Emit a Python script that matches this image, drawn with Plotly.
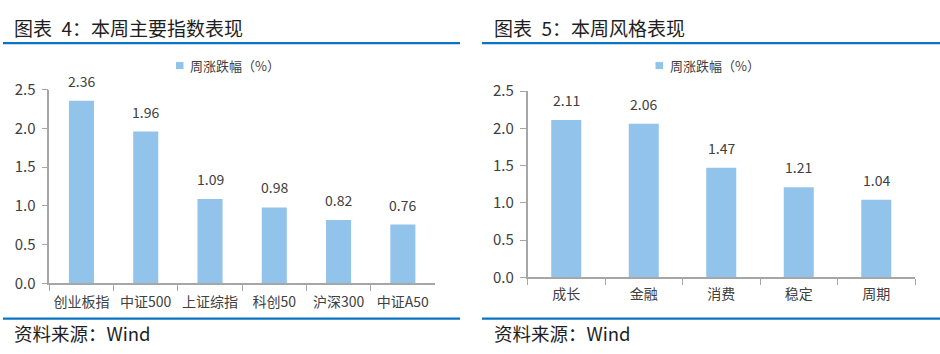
import plotly.graph_objects as go

W, H = 940, 354

idx_categories = ["创业板指", "中证500", "上证综指", "科创50", "沪深300", "中证A50"]
idx_values = [2.36, 1.96, 1.09, 0.98, 0.82, 0.76]

style_categories = ["成长", "金融", "消费", "稳定", "周期"]
style_values = [2.11, 2.06, 1.47, 1.21, 1.04]

y_ticks = [0.0, 0.5, 1.0, 1.5, 2.0, 2.5]
y_tick_text = ["0.0", "0.5", "1.0", "1.5", "2.0", "2.5"]

series_name = "周涨跌幅（%）"
titles = ["图表\u20024：本周主要指数表现", "图表\u20025：本周风格表现"]
source = "资料来源：Wind"

BAR = "#92C3EA"
TXT = "#404040"
AX = "#A6A6A6"
BLUE = "#0A74C4"
DARK = "#1E1E1E"
FONT = "Noto Sans CJK SC"


def px(x):
    return x / W


def py(y):
    return 1 - y / H


fig = go.Figure()

fig.add_trace(go.Bar(
    x=idx_categories, y=idx_values, marker_color=BAR, marker_line_width=0,
    xaxis="x", yaxis="y", showlegend=False, width=0.39, name=series_name,
))
fig.add_trace(go.Bar(
    x=style_categories, y=style_values, marker_color=BAR, marker_line_width=0,
    xaxis="x2", yaxis="y2", showlegend=False, width=0.387, name=series_name,
))

axis_common = dict(
    showgrid=False, zeroline=False, showline=True, linecolor=AX, linewidth=1.5,
    ticks="outside", ticklen=6, tickcolor=AX, tickwidth=1,
    tickfont=dict(size=14, color=TXT, family=FONT),
)
yaxis_common = dict(axis_common, tickfont=dict(size=15, color=TXT, family=FONT))

fig.update_layout(
    width=W, height=H, margin=dict(l=0, r=0, t=0, b=0),
    paper_bgcolor="white", plot_bgcolor="white",
    font=dict(family=FONT, color=TXT),
    showlegend=False,
    xaxis=dict(domain=[px(49.3), px(435)], anchor="y", ticklabelstandoff=5,
               tickangle=0, **axis_common),
    yaxis=dict(domain=[py(288.5), py(82.7)], anchor="x", range=[0, 2.5],
               tickvals=y_ticks, ticktext=y_tick_text, ticklabelstandoff=3, **yaxis_common),
    xaxis2=dict(domain=[px(527.5), px(915)], anchor="y2", ticklabelstandoff=3,
                tickangle=0, **axis_common),
    yaxis2=dict(domain=[py(282), py(84)], anchor="x2", range=[0, 2.5],
                tickvals=y_ticks, ticktext=y_tick_text, ticklabelstandoff=3, **yaxis_common),
)
fig.update_xaxes(tickson="boundaries")

shapes = []
annotations = []

# value labels above bars, placed through the axes' own scales
for cats, vals, xr, yr in [(idx_categories, idx_values, "x", "y"),
                           (style_categories, style_values, "x2", "y2")]:
    for c, v in zip(cats, vals):
        annotations.append(dict(text=f"{v:.2f}", x=c, y=v, xref=xr, yref=yr,
                                xanchor="center", yanchor="middle", yshift=20,
                                showarrow=False,
                                font=dict(size=14, color=TXT, family=FONT)))

panels = [
    dict(x0=3, x1=460, tx=13, legx=176),
    dict(x0=482, x1=940, tx=492.5, legx=655.5),
]
for i, p in enumerate(panels):
    shapes.append(dict(type="line", xref="paper", yref="paper",
                       x0=px(p["x0"]), x1=px(p["x1"]), y0=py(33), y1=py(33),
                       line=dict(color=BLUE, width=2.2)))
    shapes.append(dict(type="line", xref="paper", yref="paper",
                       x0=px(p["x0"]), x1=px(p["x1"]), y0=py(326), y1=py(326),
                       line=dict(color=BLUE, width=2.2)))
    annotations.append(dict(text=titles[i], xref="paper", yref="paper",
                            x=px(p["tx"] - 1), y=py(16.5), xanchor="left", yanchor="middle",
                            showarrow=False, font=dict(size=19, color=DARK, family=FONT)))
    annotations.append(dict(text=source, xref="paper", yref="paper",
                            x=px(p["tx"] - 1), y=py(341.5), xanchor="left", yanchor="middle",
                            showarrow=False, font=dict(size=18.5, color=DARK, family=FONT)))
    lx = p["legx"]
    shapes.append(dict(type="rect", xref="paper", yref="paper",
                       x0=px(lx), x1=px(lx + 7.5), y0=py(60.7), y1=py(53.2),
                       fillcolor=BAR, line=dict(width=0)))
    annotations.append(dict(text=series_name, xref="paper", yref="paper",
                            x=px(lx + 12), y=py(57), xanchor="left", yanchor="middle",
                            showarrow=False, font=dict(size=13, color=TXT, family=FONT)))

fig.update_layout(shapes=shapes, annotations=annotations)

fig.write_html("out.html")
